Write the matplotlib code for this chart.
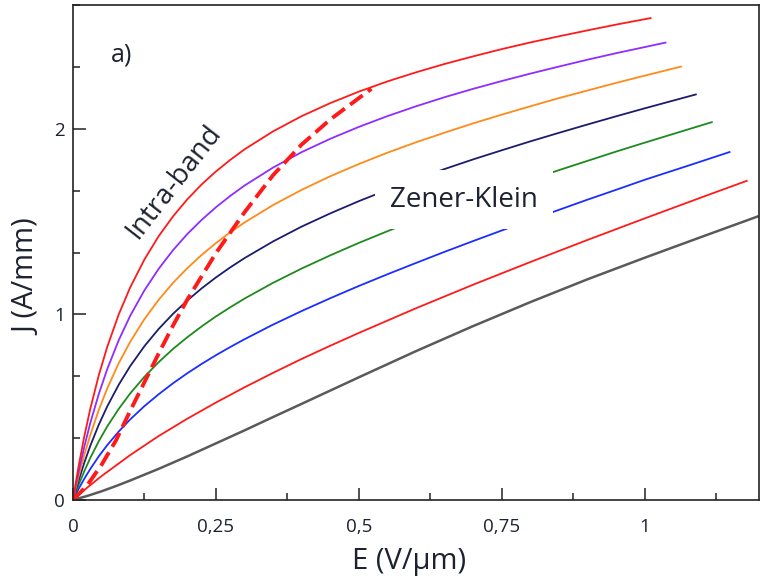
import matplotlib
matplotlib.use("Agg")
import matplotlib.pyplot as plt
from matplotlib.ticker import MultipleLocator

plt.rcParams['font.family'] = ['Open Sans', 'DejaVu Sans']

# values, E in V/um, J in A/mm
e_common = [0, 0.005, 0.01, 0.02, 0.03, 0.045, 0.06, 0.08, 0.1, 0.125, 0.15, 0.175, 0.2, 0.225, 0.25,
            0.275, 0.3, 0.35, 0.4, 0.45, 0.5, 0.55, 0.6, 0.65, 0.7, 0.75, 0.8, 0.85, 0.9, 0.95]

e_red1 = e_common + [1.012]
j_red1 = [0, 0.096, 0.185, 0.346, 0.488, 0.671, 0.826, 1.0, 1.145, 1.296, 1.422, 1.528, 1.62, 1.70, 1.77,
          1.832, 1.889, 1.986, 2.068, 2.138, 2.2, 2.255, 2.304, 2.349, 2.39, 2.429, 2.465, 2.498, 2.53, 2.561, 2.597]

e_purple = e_common + [1.038]
j_purple = [0, 0.08, 0.154, 0.29, 0.412, 0.57, 0.706, 0.861, 0.992, 1.13, 1.246, 1.346, 1.433, 1.509, 1.577,
            1.638, 1.694, 1.791, 1.874, 1.946, 2.01, 2.068, 2.121, 2.17, 2.215, 2.257, 2.297, 2.335, 2.372, 2.407, 2.465]

e_orange = e_common + [1.0, 1.065]
j_orange = [0, 0.067, 0.13, 0.245, 0.348, 0.484, 0.602, 0.737, 0.852, 0.975, 1.079, 1.17, 1.249, 1.32, 1.384,
            1.442, 1.495, 1.589, 1.671, 1.744, 1.81, 1.871, 1.927, 1.979, 2.029, 2.076, 2.121, 2.165, 2.206, 2.247,
            2.286, 2.336]

e_navy = e_common + [1.0, 1.091]
j_navy = [0, 0.055, 0.107, 0.203, 0.29, 0.405, 0.505, 0.621, 0.721, 0.829, 0.922, 1.003, 1.075, 1.14, 1.199,
          1.253, 1.303, 1.393, 1.473, 1.544, 1.61, 1.671, 1.729, 1.783, 1.835, 1.884, 1.932, 1.978, 2.023, 2.067,
          2.11, 2.186]

e_green = e_common + [1.0, 1.119]
j_green = [0, 0.042, 0.083, 0.157, 0.225, 0.316, 0.397, 0.491, 0.574, 0.664, 0.743, 0.814, 0.877, 0.935, 0.989,
           1.038, 1.085, 1.17, 1.247, 1.318, 1.385, 1.448, 1.508, 1.565, 1.62, 1.674, 1.726, 1.777, 1.827, 1.877,
           1.925, 2.037]

e_blue = e_common + [1.0, 1.075, 1.15]
j_blue = [0, 0.031, 0.061, 0.116, 0.166, 0.235, 0.296, 0.369, 0.434, 0.506, 0.57, 0.629, 0.683, 0.733, 0.78,
          0.824, 0.866, 0.945, 1.018, 1.087, 1.153, 1.216, 1.277, 1.337, 1.395, 1.452, 1.508, 1.563, 1.618, 1.671,
          1.725, 1.8, 1.876]

e_red2 = [0, 0.025, 0.05, 0.1, 0.15, 0.2, 0.25, 0.3, 0.35, 0.4, 0.45, 0.5, 0.6, 0.7, 0.8, 0.9, 1.0, 1.1, 1.18]
j_red2 = [0, 0.067, 0.129, 0.242, 0.345, 0.438, 0.525, 0.607, 0.685, 0.76, 0.831, 0.9, 1.033, 1.16, 1.282,
          1.401, 1.517, 1.631, 1.721]

e_gray = [0, 0.025, 0.05, 0.075, 0.1, 0.15, 0.2, 0.25, 0.3, 0.35, 0.4, 0.5, 0.6, 0.7, 0.8, 0.9, 1.0, 1.1, 1.2]
j_gray = [0, 0.022, 0.047, 0.075, 0.105, 0.168, 0.235, 0.305, 0.375, 0.447, 0.518, 0.661, 0.802, 0.937, 1.066,
          1.189, 1.305, 1.418, 1.53]

e_dash = [0, 0.025, 0.05, 0.075, 0.1, 0.125, 0.15, 0.175, 0.2, 0.25, 0.3, 0.35, 0.4, 0.45, 0.5, 0.522]
j_dash = [0, 0.08, 0.19, 0.32, 0.48, 0.635, 0.79, 0.94, 1.08, 1.33, 1.55, 1.75, 1.915, 2.05, 2.165, 2.215]

curves = [
    (e_gray, j_gray, "#5a5a5a", 1.8),
    (e_red2, j_red2, "#ff1a1a", 1.3),
    (e_blue, j_blue, "#1a2eff", 1.3),
    (e_green, j_green, "#1e8a1e", 1.3),
    (e_navy, j_navy, "#1c1c6e", 1.3),
    (e_orange, j_orange, "#ff8a1a", 1.3),
    (e_purple, j_purple, "#8f2cff", 1.3),
    (e_red1, j_red1, "#ff1a1a", 1.3),
]

fig = plt.figure(figsize=(7.63, 5.82), dpi=100)
ax = fig.add_axes([73 / 763, 82 / 582, 686 / 763, 495 / 582])

for e, j, c, lw in curves:
    ax.plot(e, j, color=c, lw=lw, solid_capstyle="butt", solid_joinstyle="round")
ax.plot(e_dash, j_dash, color="#ff1a1a", lw=2.8, dashes=(4, 1.7))

ax.set_xlim(0, 1.2)
ax.set_ylim(0, 8 / 3)

txt = "#1c2230"
ax.set_xticks([0, 0.25, 0.5, 0.75, 1])
ax.set_xticklabels(["0", "0,25", "0,5", "0,75", "1"])
ax.set_yticks([0, 1, 2])
ax.xaxis.set_minor_locator(MultipleLocator(0.125))
ax.yaxis.set_minor_locator(MultipleLocator(1 / 3))
ax.tick_params(which="both", direction="in", width=1.1, colors="#222222",
               labelsize=13.5, labelcolor=txt)
ax.tick_params(which="major", length=9)
ax.tick_params(which="minor", length=5)
ax.tick_params(axis="x", pad=13)
ax.tick_params(axis="y", pad=6)
for s in ax.spines.values():
    s.set_linewidth(1.2)
    s.set_color("#222222")

ax.set_xlabel("E (V/μm)", fontsize=21, color=txt)
ax.xaxis.set_label_coords(0.49, -0.095)
ax.set_ylabel("J (A/mm)", fontsize=21, color=txt)
ax.yaxis.set_label_coords(-0.045, 0.45)

ax.text(0.0857, 2.4, "a)", fontsize=18, color=txt, ha="center", va="center")
ax.text(0.177, 1.712, "Intra-band", fontsize=20, color=txt, rotation=52,
        ha="center", va="center", rotation_mode="anchor")
ax.text(0.684, 1.618, "Zener-Klein", fontsize=20, color=txt, ha="center", va="center",
        zorder=6, bbox=dict(boxstyle="square,pad=0.55", fc="white", ec="none"))

fig.savefig("out.png", dpi=100)
